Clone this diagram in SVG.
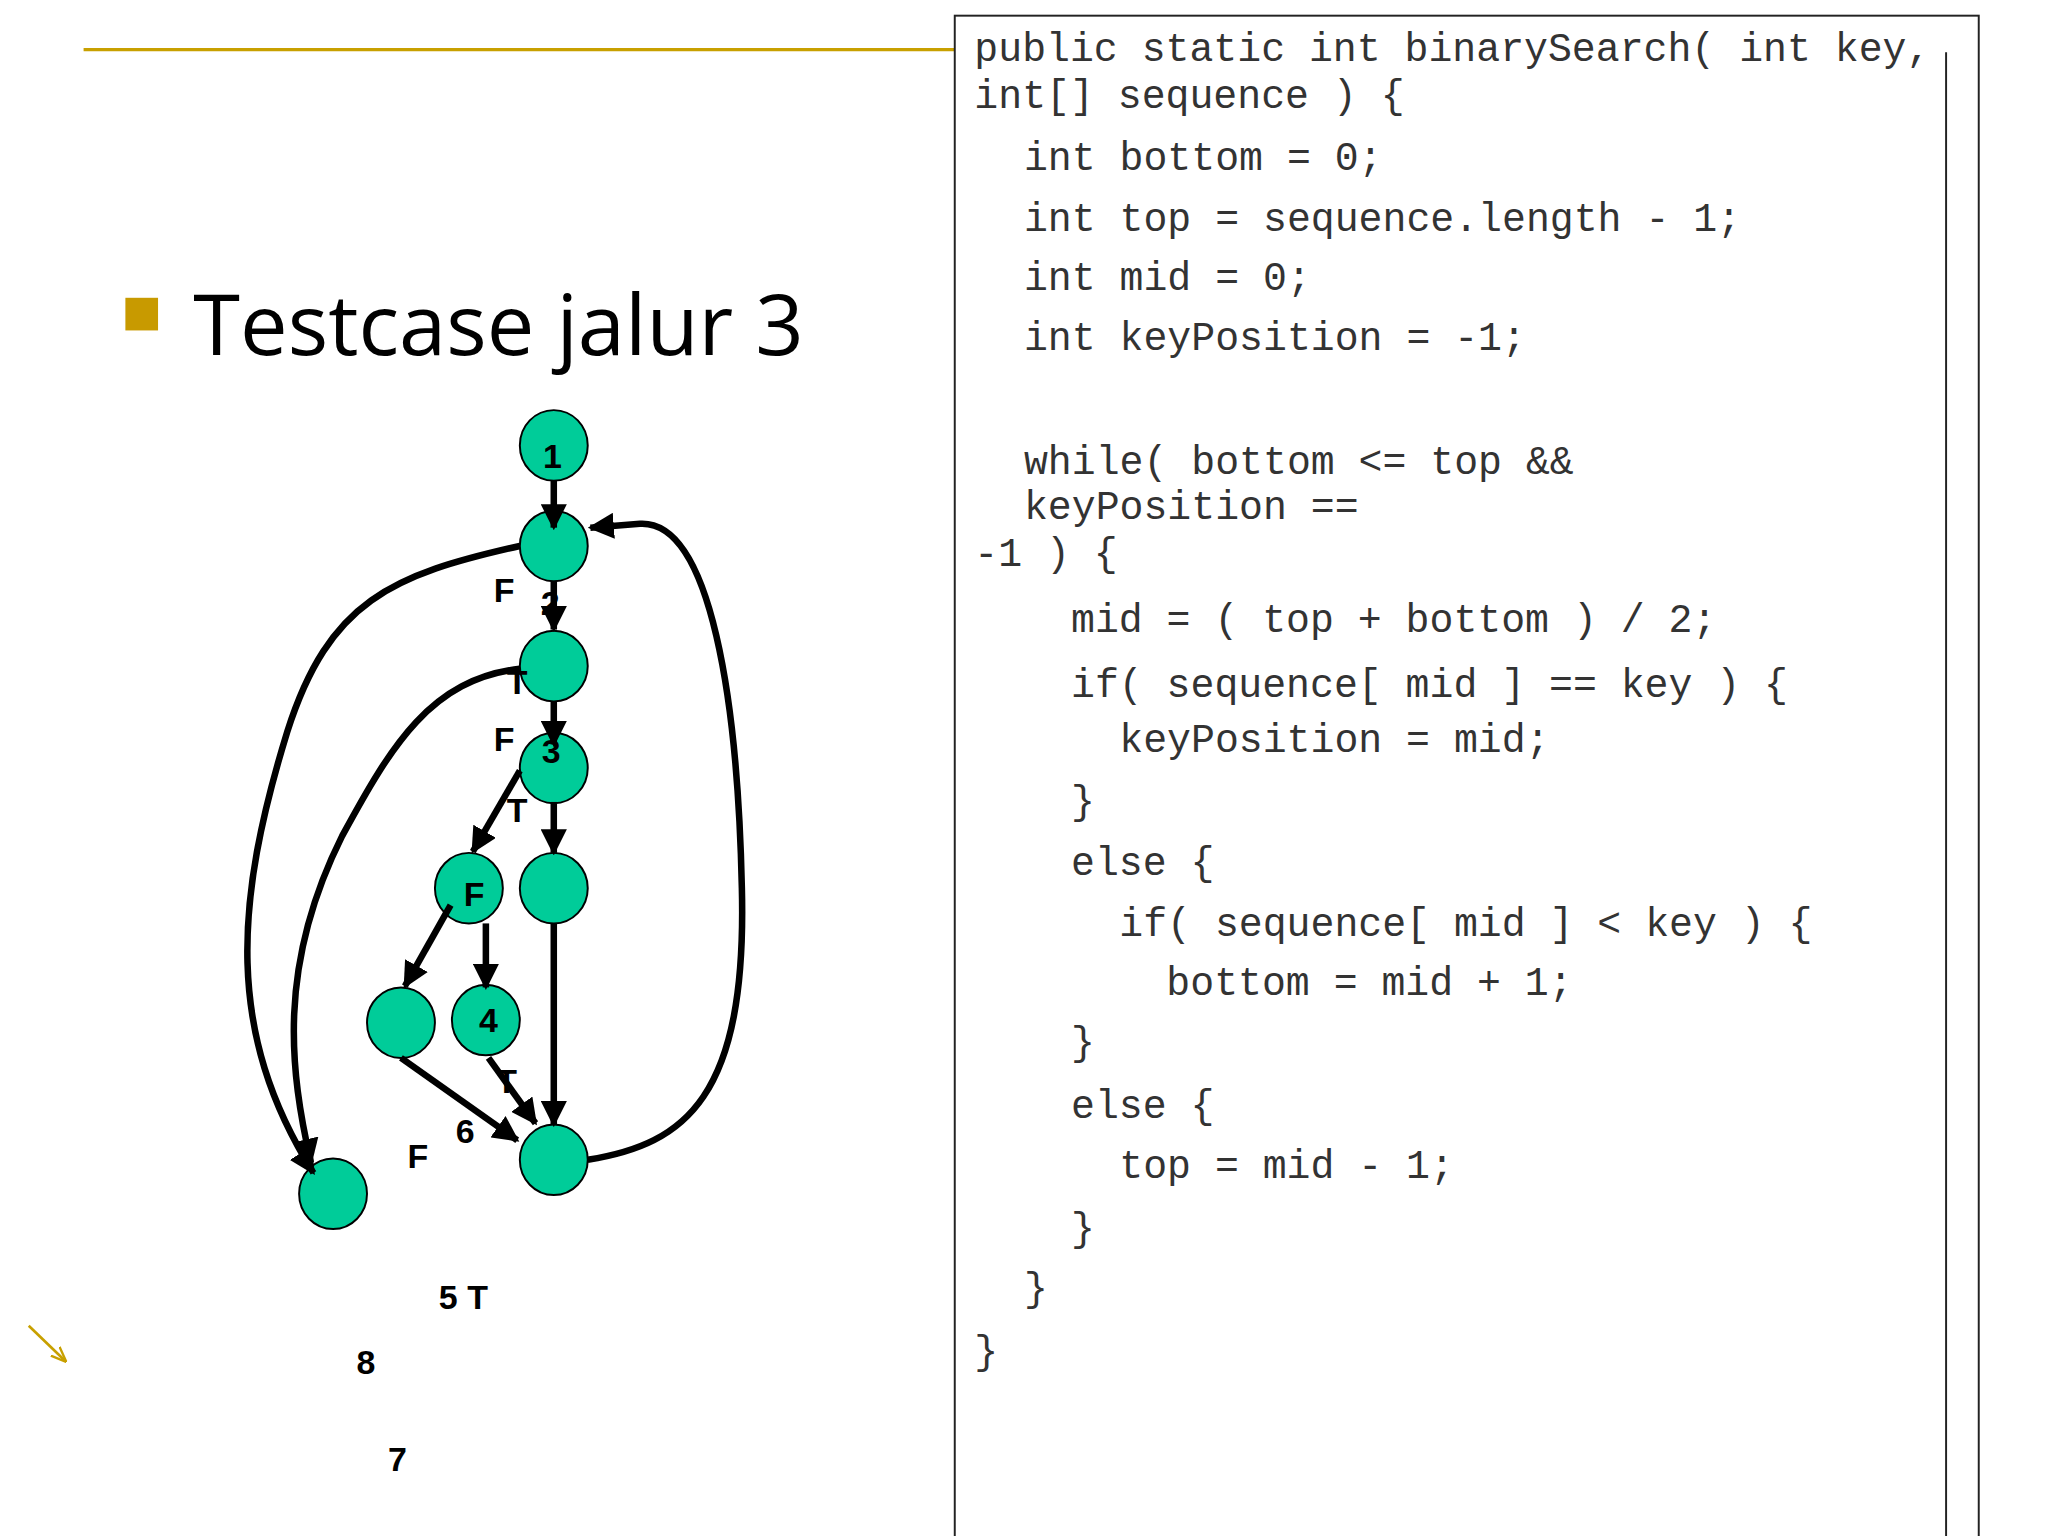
<svg xmlns="http://www.w3.org/2000/svg" width="2048" height="1536" viewBox="0 0 2048 1536">
<defs>
<marker id="ah" viewBox="0 0 10 10" refX="9" refY="5" markerWidth="4" markerHeight="4" orient="auto" markerUnits="strokeWidth"><path d="M0,0 L10,5 L0,10 z" fill="#000"/></marker>
<marker id="ga" viewBox="0 0 10 10" refX="9" refY="5" markerWidth="6" markerHeight="6" orient="auto"><path d="M0,1 L10,5 L0,9" fill="none" stroke="#c8a000" stroke-width="1.5"/></marker>
<style>
.code{font-family:"Liberation Mono",monospace;font-size:30.5px;fill:#333;white-space:pre}
.nd{fill:#00cc99;stroke:#000;stroke-width:1.5}
.lb{font-family:"Liberation Sans",Arial,sans-serif;font-weight:bold;font-size:26px;fill:#000}
.e{fill:none;stroke:#000;stroke-width:5;marker-end:url(#ah)}
</style>
</defs>
<rect width="2048" height="1536" fill="#fff"/>
<g transform="scale(1.3061,1.3061)">
<line x1="64" y1="38" x2="731" y2="38" stroke="#c8a000" stroke-width="2.5"/>
<rect x="96" y="228" width="25" height="25" fill="#c89a00"/>
<text x="148" y="272" font-family="Open Sans, sans-serif" font-size="65" fill="#000">Testcase jalur 3</text>
<rect x="731" y="12" width="784" height="1200" fill="none" stroke="#222" stroke-width="1.5"/>
<line x1="1490" y1="40" x2="1490" y2="1176" stroke="#222" stroke-width="1.5"/>
<g id="code">
<text class="code" x="746" y="47">public static int binarySearch( int key,</text>
<text class="code" x="746" y="83">int[] sequence ) {</text>
<text class="code" x="784" y="130">int bottom = 0;</text>
<text class="code" x="784" y="177">int top = sequence.length - 1;</text>
<text class="code" x="784" y="222">int mid = 0;</text>
<text class="code" x="784" y="268">int keyPosition = -1;</text>
<text class="code" x="784" y="363">while( bottom &lt;= top &amp;&amp;</text>
<text class="code" x="784" y="397">keyPosition ==</text>
<text class="code" x="746" y="433">-1 ) {</text>
<text class="code" x="820" y="484">mid = ( top + bottom ) / 2;</text>
<text class="code" x="820" y="534">if( sequence[ mid ] == key ) {</text>
<text class="code" x="857" y="576">keyPosition = mid;</text>
<text class="code" x="820" y="623">}</text>
<text class="code" x="820" y="670">else {</text>
<text class="code" x="857" y="717">if( sequence[ mid ] &lt; key ) {</text>
<text class="code" x="893" y="762">bottom = mid + 1;</text>
<text class="code" x="820" y="808">}</text>
<text class="code" x="820" y="856">else {</text>
<text class="code" x="857" y="902">top = mid - 1;</text>
<text class="code" x="820" y="950">}</text>
<text class="code" x="784" y="996">}</text>
<text class="code" x="746" y="1044">}</text>
</g>
<g id="nodes">
<g id="n1"><ellipse class="nd" cx="424" cy="341" rx="26" ry="27"/><text class="lb" x="423" y="358" text-anchor="middle">1</text></g>
<g id="n2"><ellipse class="nd" cx="424" cy="418" rx="26" ry="27"/></g>
<g id="n3"><ellipse class="nd" cx="424" cy="510" rx="26" ry="27"/></g>
<g id="n4"><ellipse class="nd" cx="424" cy="588" rx="26" ry="27"/><text class="lb" x="422" y="584" text-anchor="middle">3</text></g>
<g id="n5"><ellipse class="nd" cx="359" cy="680" rx="26" ry="27"/><text class="lb" x="363" y="694" text-anchor="middle" font-size="22">F</text></g>
<g id="n6"><ellipse class="nd" cx="424" cy="680" rx="26" ry="27"/></g>
<g id="n7"><ellipse class="nd" cx="307" cy="783" rx="26" ry="27"/></g>
<g id="n8"><ellipse class="nd" cx="372" cy="781" rx="26" ry="27"/><text class="lb" x="374" y="790" text-anchor="middle">4</text></g>
<g id="n9"><ellipse class="nd" cx="424" cy="888" rx="26" ry="27"/></g>
<g id="n10"><ellipse class="nd" cx="255" cy="914" rx="26" ry="27"/></g>
</g>
<g id="edges">
<path class="e" d="M424,368 L424,404"/>
<path class="e" d="M424,445 L424,482"/>
<path class="e" d="M424,537 L424,570"/>
<path class="e" d="M424,614 L424,653"/>
<path class="e" d="M398,590 L362,652"/>
<path class="e" d="M345,693 L310,755"/>
<path class="e" d="M372,707 L372,756"/>
<path class="e" d="M307,810 L396,873"/>
<path class="e" d="M374,810 L410,860"/>
<path class="e" d="M424,707 L424,861"/>
<path class="e" d="M450,888 C525,876 572,840 568,680 C565,540 545,398 490,401 L452,404"/>
<path class="e" d="M398,418 C300,440 252,460 220,560 C180,690 172,790 240,898"/>
<path class="e" d="M398,512 C330,520 300,570 262,640 C212,740 222,820 238,890"/>
</g>
<g id="labels">
<text class="lb" x="378" y="461">F</text>
<text class="lb" x="414" y="471">2</text>
<text class="lb" x="388" y="531">T</text>
<text class="lb" x="378" y="575">F</text>
<text class="lb" x="388" y="629">T</text>
<text class="lb" x="380" y="837">T</text>
<text class="lb" x="349" y="875">6</text>
<text class="lb" x="312" y="894" font-size="22">F</text>
<text class="lb" x="336" y="1002">5 T</text>
<text class="lb" x="273" y="1052">8</text>
<text class="lb" x="297" y="1126">7</text>
</g>
<line x1="22" y1="1015" x2="50" y2="1042" stroke="#c8a000" stroke-width="2" marker-end="url(#ga)"/>
</g>
</svg>
